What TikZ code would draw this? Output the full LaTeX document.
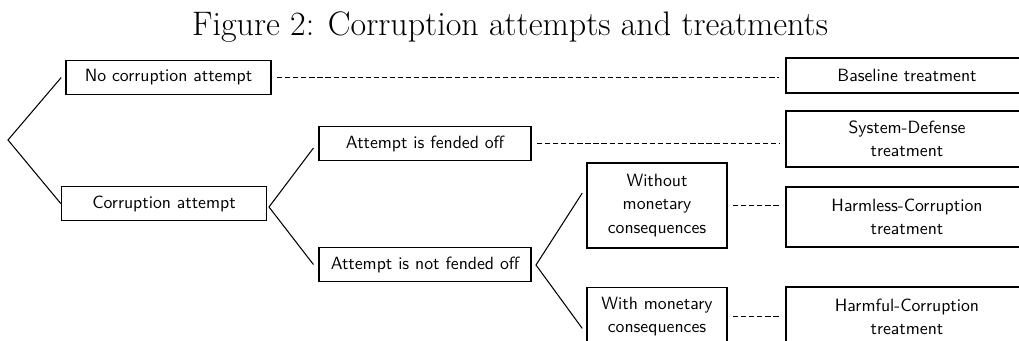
\documentclass[tikz,border=0pt]{standalone}
\begin{document}
\tikzset{
  box/.style={draw, line width=0.8pt, font=\sffamily\fontsize{10.1}{13.3}\selectfont,
    align=center, inner xsep=2pt, inner ysep=0pt, anchor=center},
  lvlA/.style={box, text width=112.9pt, minimum height=19.5pt},
  lvlB/.style={box, text width=116.8pt, minimum height=19.5pt},
  lvlC/.style={box, text width=75.8pt},
  lvlD/.style={box, text width=133.9pt},
  branch/.style={line width=0.6pt},
  link/.style={line width=0.6pt, dash pattern=on 3pt off 1.6pt},
}
\begin{tikzpicture}[x=0.57pt,y=-0.57pt]
\useasboundingbox (0,0) rectangle (1019,340);
\clip (0,0) rectangle (1019,340);

\node[font=\fontsize{19.4}{23}\selectfont, anchor=base] (title) at (510,35) {Figure 2: Corruption attempts and treatments};

% left level
\node[lvlA] (b1) at (168.5,77.5) {No corruption attempt};
\node[lvlA] (b2) at (164,203.5) {Corruption attempt};
% second level
\node[lvlB] (b3) at (425,143.5) {Attempt is fended off};
\node[lvlB] (b4) at (425,264.5) {Attempt is not fended off};
% third level
\node[lvlC, minimum height=48.5pt] (b5) at (657,205.5) {Without\\monetary\\consequences};
\node[lvlC, minimum height=33pt] (b6) at (657,316.5) {With monetary\\consequences};
% treatments
\node[lvlD, minimum height=20pt] (r1) at (907,75.5) {Baseline treatment};
\node[lvlD, minimum height=32pt] (r2) at (907,139) {System-Defense\\treatment};
\node[lvlD, minimum height=34pt] (r3) at (907,217) {Harmless-Corruption\\treatment};
\node[lvlD, minimum height=34pt] (r4) at (907,317) {Harmful-Corruption\\treatment};

% branching points
\coordinate (root) at (8,140);
\coordinate (fork2) at (269,207);
\coordinate (fork3) at (536,265);

\draw[branch] ([xshift=-2.3pt]b1.west) -- (root) -- (b2.west);
\draw[branch] ([xshift=-2.8pt,yshift=-2.6pt]b3.west) -- (fork2) -- ([xshift=-2.8pt]b4.west);
\draw[branch] ([xshift=-2.3pt,yshift=7.1pt]b5.west) -- (fork3) -- ([xshift=-2.3pt,yshift=-6.8pt]b6.west);

% dashed links
\draw[link] ([xshift=3pt]b1.east) -- ([xshift=-3.4pt]b1.east -| r1.west);
\draw[link] ([xshift=3pt]b3.east) -- ([xshift=-3.4pt]b3.east -| r2.west);
\draw[link] ([xshift=3pt]b5.east) -- ([xshift=-3.4pt]b5.east -| r3.west);
\draw[link] ([xshift=3pt]b6.east) -- ([xshift=-3.4pt]b6.east -| r4.west);
\end{tikzpicture}
\end{document}
